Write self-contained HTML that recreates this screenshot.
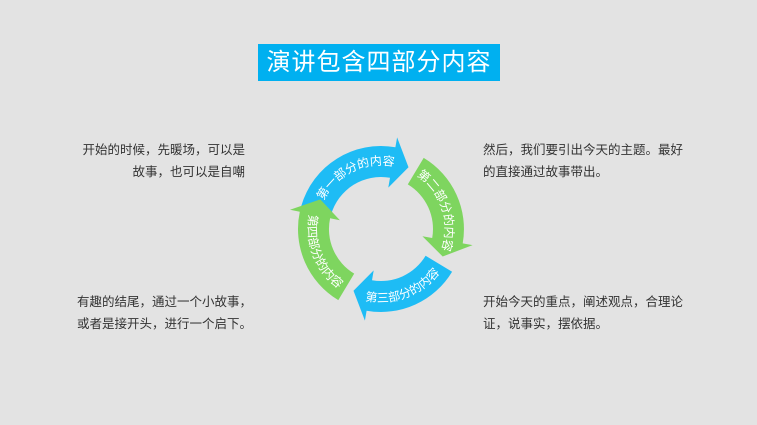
<!DOCTYPE html>
<html><head><meta charset="utf-8"><style>
body{margin:0;width:757px;height:425px;background:#e3e3e3;overflow:hidden;position:relative;font-family:"Liberation Sans","Noto Sans CJK SC",sans-serif}
.t{position:absolute;left:258px;top:44px;width:242px;height:37px;background:#00b0f0;color:#fff;font-size:24px;line-height:37px;text-align:center;letter-spacing:1px}
.p{position:absolute;font-size:12.5px;color:#333;line-height:22px;white-space:nowrap}
svg{position:absolute;left:0;top:0}
</style></head><body>
<div class="t">演讲包含四部分内容</div>
<div class="p" style="right:512px;top:139px;text-align:right">开始的时候，先暖场，可以是<br>故事，也可以是自嘲</div>
<div class="p" style="left:483px;top:139px">然后，我们要引出今天的主题。最好<br>的直接通过故事带出。</div>
<div class="p" style="left:77px;top:291px">有趣的结尾，通过一个小故事，<br>或者是接开头，进行一个启下。</div>
<div class="p" style="left:483px;top:291px">开始今天的重点，阐述观点，合理论<br>证，说事实，摆依据。</div>
<svg width="757" height="425" id="s">
<defs>
<path id="a1" d=""/><path id="a2" d=""/><path id="a3" d=""/><path id="a4" d=""/>
</defs>
<g id="g"></g>
<text fill="#fff" font-size="12"><textPath href="#a1" startOffset="50%" text-anchor="middle">第一部分的内容</textPath></text>
<text fill="#fff" font-size="12"><textPath href="#a2" startOffset="50%" text-anchor="middle">第二部分的内容</textPath></text>
<text fill="#fff" font-size="12"><textPath href="#a3" startOffset="50%" text-anchor="middle">第三部分的内容</textPath></text>
<text fill="#fff" font-size="12"><textPath href="#a4" startOffset="50%" text-anchor="middle">第四部分的内容</textPath></text>
</svg>
<script>
var cx=381,cy=229,ri=52,ro=83,rm=64;
function P(r,a){a=a*Math.PI/180;return (cx+r*Math.cos(a)).toFixed(1)+","+(cy+r*Math.sin(a)).toFixed(1);}
function arrow(a0,a1,col){
 var h=a1+14;
 var d="M"+P(ri,a0)+" L"+P(ro,a0)+" A"+ro+","+ro+" 0 0 1 "+P(ro,a1)+" L"+P(ro+10,a1)+" L"+P((ri+ro)/2,h)+" L"+P(ri-10,a1)+" L"+P(ri,a1)+" A"+ri+","+ri+" 0 0 0 "+P(ri,a0)+" Z";
 return '<path d="'+d+'" fill="'+col+'"/>';
}
document.getElementById("g").innerHTML=
 arrow(196,280,"#1ebcf5")+arrow(301,10,"#7ed55f")+arrow(31,100,"#1ebcf5")+arrow(121,192,"#7ed55f");
function arc(id,a0,a1,r,cw){document.getElementById(id).setAttribute("d","M"+P(r,a0)+" A"+r+","+r+" 0 0 "+(cw?1:0)+" "+P(r,a1));}
arc("a1",196,292,rm,1);arc("a2",301,382,rm,1);arc("a3",114,25,rm+9,0);arc("a4",202,115,rm+9,0);
</script>
</body></html>
